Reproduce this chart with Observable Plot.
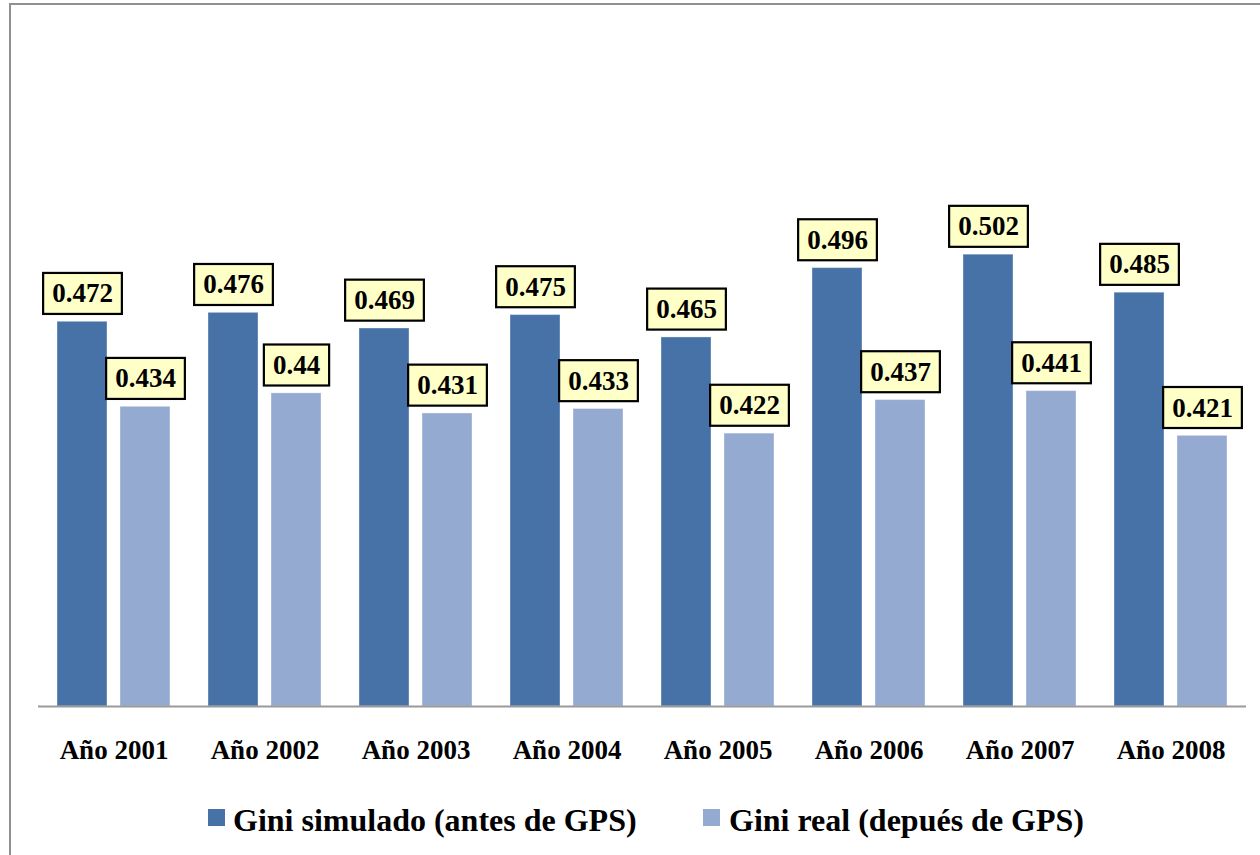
<!DOCTYPE html>
<html>
<head>
<meta charset="utf-8">
<script src="https://cdn.jsdelivr.net/npm/d3@7"></script>
<script src="https://cdn.jsdelivr.net/npm/@observablehq/plot@0.6"></script>
<style>
  html, body { margin: 0; padding: 0; background: #fff; width: 1260px; height: 855px; overflow: hidden; }
  #frame { position: absolute; left: 9px; top: 3px; width: 1400px; height: 1000px; border-left: 2px solid #909090; border-top: 2px solid #909090; pointer-events: none; }
  #chart { position: absolute; left: 0; top: 0; }
  #legend { position: absolute; left: 0; top: 780px; width: 1260px; height: 75px; font-family: "Liberation Serif", Tinos, "DejaVu Serif", serif; font-weight: bold; font-size: 32px; color: #000; }
  .sw { position: absolute; width: 17px; height: 17px; top: 29px; }
  .lt { position: absolute; top: 24px; line-height: 1; white-space: nowrap; }
</style>
</head>
<body>
<div id="chart"></div>
<div id="legend">
  <div class="sw" id="sw1" style="left:208px"></div><span class="lt" id="lt1" style="left:233px"></span>
  <div class="sw" id="sw2" style="left:703px"></div><span class="lt" id="lt2" style="left:729px"></span>
</div>
<div id="frame"></div>
<script>
const years = ["Año 2001", "Año 2002", "Año 2003", "Año 2004", "Año 2005", "Año 2006", "Año 2007", "Año 2008"];
const seriesNames = ["Gini simulado (antes de GPS)", "Gini real (depués de GPS)"];
const simulado = [0.472, 0.476, 0.469, 0.475, 0.465, 0.496, 0.502, 0.485];
const real = [0.434, 0.44, 0.431, 0.433, 0.422, 0.437, 0.441, 0.421];
const colors = ["#4672a7", "#95aad1"];
const yMin = 0.3, yMax = 0.6;

const data = [];
years.forEach((yr, i) => {
  data.push({year: yr, series: seriesNames[0], value: simulado[i]});
  data.push({year: yr, series: seriesNames[1], value: real[i]});
});

const font = '"Liberation Serif", Tinos, "DejaVu Serif", serif';

const svg = Plot.plot({
  width: 1260,
  height: 780,
  marginLeft: 38,
  marginRight: 14,
  marginTop: 35,
  marginBottom: 74,
  style: {fontFamily: font, fontWeight: "bold", color: "#000", background: "transparent", overflow: "visible"},
  fx: {domain: years, padding: 0, axis: null},
  x: {domain: seriesNames, paddingInner: 0.206, paddingOuter: 0.30, axis: null},
  y: {domain: [yMin, yMax], axis: null},
  color: {domain: seriesNames, range: colors},
  marks: [
    Plot.barY(data, {fx: "year", x: "series", y1: () => yMin, y2: "value", fill: "series", stroke: "#ffffff", strokeOpacity: 0.35, strokeWidth: 1}),
    Plot.ruleY([yMin], {stroke: "#9a9a9a", strokeWidth: 2}),
    Plot.text(data, {fx: "year", x: "series", y: "value", text: d => String(d.value), dy: -28, lineAnchor: "middle", fontSize: 27, fontWeight: "bold", fill: "#000"}),
    Plot.axisFx({anchor: "bottom", tickSize: 0, tickPadding: 33, fontSize: 27, fontWeight: "bold", label: null})
  ]
});

document.getElementById("chart").appendChild(svg);

// label boxes behind each value text
const valueStrings = new Set(data.map(d => String(d.value)));
svg.querySelectorAll("text").forEach(t => {
  if (!valueStrings.has(t.textContent.trim())) return;
  const b = t.getBBox();
  const cy = b.y + b.height / 2;
  const r = document.createElementNS("http://www.w3.org/2000/svg", "rect");
  r.setAttribute("x", b.x - 9);
  r.setAttribute("width", b.width + 18);
  r.setAttribute("y", cy - 20.5);
  r.setAttribute("height", 41);
  r.setAttribute("fill", "#ffffc8");
  r.setAttribute("stroke", "#000");
  r.setAttribute("stroke-width", 2.2);
  if (t.getAttribute("transform")) r.setAttribute("transform", t.getAttribute("transform"));
  t.parentNode.insertBefore(r, t);
});

document.getElementById("sw1").style.background = colors[0];
document.getElementById("sw2").style.background = colors[1];
document.getElementById("lt1").textContent = seriesNames[0];
document.getElementById("lt2").textContent = seriesNames[1];
</script>
</body>
</html>
